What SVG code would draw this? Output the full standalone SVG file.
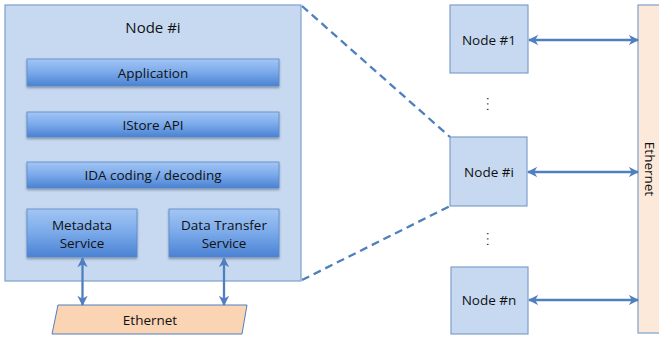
<svg xmlns="http://www.w3.org/2000/svg" width="659" height="341" viewBox="0 0 659 341">
  <defs>
    <linearGradient id="barGrad" x1="0" y1="0" x2="0" y2="1">
      <stop offset="0" stop-color="#a3c6f4"/>
      <stop offset="0.5" stop-color="#7aa9ea"/>
      <stop offset="1" stop-color="#4a82d2"/>
    </linearGradient>
    <filter id="shadow" x="-10%" y="-20%" width="120%" height="150%">
      <feDropShadow dx="0" dy="1.5" stdDeviation="1" flood-color="#000" flood-opacity="0.35"/>
    </filter>
    <marker id="arrowEnd" viewBox="0 0 10 10" refX="9" refY="5" markerWidth="4.5" markerHeight="4.5" orient="auto-start-reverse" markerUnits="strokeWidth">
      <path d="M0,0 L10,5 L0,10 L3,5 Z" fill="#4f7fbf"/>
    </marker>
  </defs>
  <style>
    .panel { fill: #c6d9f1; stroke: #7f9fcd; stroke-width: 1.2; }
    .bar { fill: url(#barGrad); stroke: #5a88c8; stroke-width: 0.8; filter: url(#shadow); }
    .node { fill: #c6d9f1; stroke: #7f9fcd; stroke-width: 1.2; }
    .lbl { font-family: "Open Sans", "Liberation Sans", sans-serif; font-size: 13.5px; fill: #111; text-anchor: middle; }
    .title { font-family: "Open Sans", "Liberation Sans", sans-serif; font-size: 15px; fill: #111; text-anchor: middle; }
    .link { stroke: #4f7fbf; stroke-width: 2.3; fill: none; marker-start: url(#arrowEnd); marker-end: url(#arrowEnd); }
    .dash { stroke: #4f7fbf; stroke-width: 2.3; fill: none; stroke-dasharray: 8 5; }
    .dots { font-family: "Liberation Sans", sans-serif; font-size: 12px; fill: #222; text-anchor: middle; letter-spacing: 2px; }
  </style>

  <!-- expanded view of node i -->
  <g id="node-i-detail">
    <rect class="panel" x="5" y="5" width="296" height="276"/>
    <text class="title" x="153" y="33">Node #i</text>
  </g>
  <g id="application">
    <rect class="bar" x="27" y="59" width="252" height="27"/>
    <text class="lbl" x="153" y="78">Application</text>
  </g>
  <g id="istore-api">
    <rect class="bar" x="27" y="112" width="252" height="25"/>
    <text class="lbl" x="153" y="130">IStore API</text>
  </g>
  <g id="ida-coding">
    <rect class="bar" x="27" y="162" width="252" height="26"/>
    <text class="lbl" x="153" y="180">IDA coding / decoding</text>
  </g>
  <g id="metadata-service">
    <rect class="bar" x="27" y="209" width="110" height="48"/>
    <text class="lbl" x="82" y="230">Metadata</text>
    <text class="lbl" x="82" y="248">Service</text>
  </g>
  <g id="data-transfer-service">
    <rect class="bar" x="169" y="209" width="110" height="48"/>
    <text class="lbl" x="224" y="230">Data Transfer</text>
    <text class="lbl" x="224" y="248">Service</text>
  </g>
  <g id="ethernet-local">
    <polygon points="58,305 247,305 242,334 52,334" fill="#fbd4b4" stroke="#4f7fbf" stroke-width="1"/>
    <text class="lbl" x="150" y="325">Ethernet</text>
  </g>

  <!-- cluster nodes -->
  <g id="node-1">
    <rect class="node" x="450" y="5" width="78" height="68"/>
    <text class="lbl" x="489" y="45">Node #1</text>
  </g>
  <g id="node-i">
    <rect class="node" x="450" y="137" width="77" height="69"/>
    <text class="lbl" x="489" y="177">Node #i</text>
  </g>
  <g id="node-n">
    <rect class="node" x="451" y="267" width="77" height="67"/>
    <text class="lbl" x="489" y="305">Node #n</text>
  </g>
  <g id="ethernet-bus">
    <rect x="638" y="5" width="30" height="328" fill="#fde9d9" stroke="#7f9fcd" stroke-width="1.2"/>
    <text class="lbl" transform="translate(645,169) rotate(90)">Ethernet</text>
  </g>

  <text class="dots" transform="translate(487,105) rotate(90)">...</text>
  <text class="dots" transform="translate(487,240) rotate(90)">...</text>

  <!-- connectors -->
  <g id="connectors">
    <line class="dash" x1="302" y1="6" x2="450" y2="137"/>
    <line class="dash" x1="302" y1="280" x2="450" y2="206"/>
    <line class="link" x1="82.5" y1="258" x2="82.5" y2="305"/>
    <line class="link" x1="224" y1="258" x2="224" y2="305"/>
    <line class="link" x1="529" y1="40" x2="638" y2="40"/>
    <line class="link" x1="528" y1="172" x2="638" y2="172"/>
    <line class="link" x1="529" y1="300" x2="638" y2="300"/>
  </g>
</svg>
